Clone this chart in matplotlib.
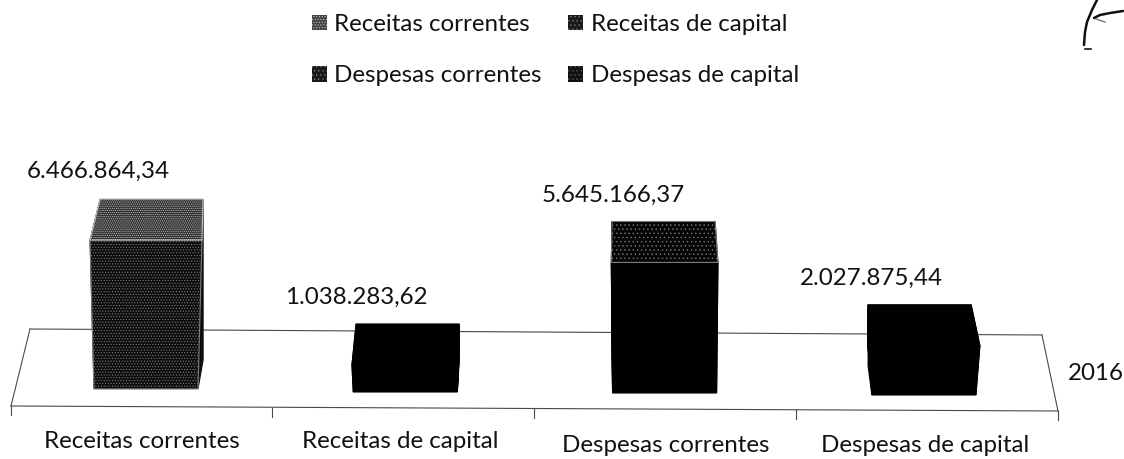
import matplotlib
matplotlib.use("Agg")
import matplotlib.pyplot as plt
from matplotlib.patches import Patch

# ---- data ----
categories = ["Receitas correntes", "Receitas de capital", "Despesas correntes", "Despesas de capital"]
values = [6466864.34, 1038283.62, 5645166.37, 2027875.44]
value_labels = ["6.466.864,34", "1.038.283,62", "5.645.166,37", "2.027.875,44"]
series_name = "2016"

# ---- layout (pixels of the 1124x459 page) ----
W, H = 1124, 459
K = 22.47e-6            # px per unit of value
REF = 406               # px row of value 0
base_px = [389, 392, 393, 395]
label_xy = [(98, 171), (356, 297), (613, 195), (871, 278)]
cat_xy = [(142, 441), (400, 441), (666, 445), (925, 446)]
tick_x = [11, 272, 534, 796, 1058]
tick_y = [406, 407.5, 409, 410, 411]
FS = 17.4

plt.rcParams["font.family"] = ["Lato", "DejaVu Sans"]
plt.rcParams["hatch.linewidth"] = 0.5
fig = plt.figure(figsize=(W / 100, H / 100), dpi=100)
ax = fig.add_axes([0, 0, 1, 1])
ax.set_xlim(0, W)
ax.set_ylim((REF - H) / K, REF / K)
ax.axis("off")


def py(px):
    """page row -> value coordinate"""
    return (REF - px) / K


line = dict(color="#4a4a4a", lw=0.8, zorder=1)
ax.plot([30, 1042], [py(329), py(335)], **line)
ax.plot([30, 11], [py(329), py(406)], **line)
ax.plot([1042, 1058], [py(335), py(411)], **line)
ax.plot([11, 1058], [py(406), py(411)], **line)
for tx, ty in zip(tick_x, tick_y):
    ax.plot([tx, tx], [py(ty), py(ty + 9)], **line)

front_style = [
    dict(facecolor="#0c0c0c", edgecolor="#7c7c7c", hatch="......"),
    dict(facecolor="#000000"),
    dict(facecolor="#000000"),
    dict(facecolor="#000000"),
]
top_style = [
    dict(facecolor="#303030", edgecolor="#c4c4c4", hatch="........"),
    dict(facecolor="#000000"),
    dict(facecolor="#060606", edgecolor="#7a7a7a", hatch="...."),
    dict(facecolor="#000000"),
]

for i, v in enumerate(values):
    u = i + 0.5
    xc = 146 + 259.3 * i
    y0 = py(base_px[i])
    front_top = y0 + v + 3.7 / K
    back_top = front_top + 41 / K
    back_bottom = y0 + 29 / K
    bc = xc + 3.3 * (2.2 - u)
    hb = 52
    ht = 52 + 2.65 * abs(u - 2)
    hk = 51.5
    fc = front_style[i]["facecolor"]
    solid = dict(facecolor=fc, edgecolor=fc, linewidth=0.8, zorder=3)
    # side faces
    ax.fill([xc + hb, bc + hk, bc + hk, xc + ht],
            [y0, back_bottom, back_top, front_top], **solid)
    ax.fill([xc - hb, bc - hk, bc - hk, xc - ht],
            [y0, back_bottom, back_top, front_top], **solid)
    # front face
    ax.fill([xc - hb, xc + hb, xc + ht, xc - ht], [y0, y0, front_top, front_top],
            **{"edgecolor": fc, "linewidth": 0.8, "zorder": 4, **front_style[i]})
    # top face
    ax.fill([xc - ht, xc + ht, bc + hk, bc - hk], [front_top, front_top, back_top, back_top],
            **{"edgecolor": fc, "linewidth": 0.8, "zorder": 5, **top_style[i]})

for (x, y), s in zip(label_xy, value_labels):
    ax.text(x, py(y), s, ha="center", va="center", fontsize=FS, color="#111111")
for (x, y), s in zip(cat_xy, categories):
    ax.text(x, py(y), s, ha="center", va="center", fontsize=FS, color="#111111")
ax.text(1096, py(374), series_name, ha="center", va="center", fontsize=FS, color="#111111")

handles = [
    Patch(facecolor="#444444", edgecolor="#bbbbbb", hatch="......", linewidth=0),
    Patch(facecolor="#1a1a1a", edgecolor="#777777", hatch="....", linewidth=0),
    Patch(facecolor="#1a1a1a", edgecolor="#777777", hatch="....", linewidth=0),
    Patch(facecolor="#111111", edgecolor="#555555", hatch="....", linewidth=0),
]
legend_order = [0, 2, 1, 3]
fig.legend([handles[i] for i in legend_order], [categories[i] for i in legend_order],
           ncol=2, frameon=False, fontsize=FS, loc="upper left",
           bbox_to_anchor=(312 / W, 1 - 14 / H), borderaxespad=0, borderpad=0,
           handlelength=0.6, handleheight=0.62, handletextpad=0.32,
           columnspacing=1.1, labelspacing=1.25, labelcolor="#111111")

# handwritten mark in the corner of the scanned page
pen = dict(color="#111111", lw=1.8, solid_capstyle="round", zorder=6)
ax.plot([1097, 1092, 1087, 1085, 1084], [py(0), py(10), py(22), py(32), py(45)], **pen)
ax.plot([1094, 1100, 1110, 1123], [py(18), py(15), py(13), py(11)], **pen)
ax.plot([1085, 1091], [py(49), py(49)], color="#111111", lw=1.2)
ax.plot([1096, 1105], [py(19), py(22)], color="#777777", lw=1.0)

fig.savefig("out.png", dpi=100)
